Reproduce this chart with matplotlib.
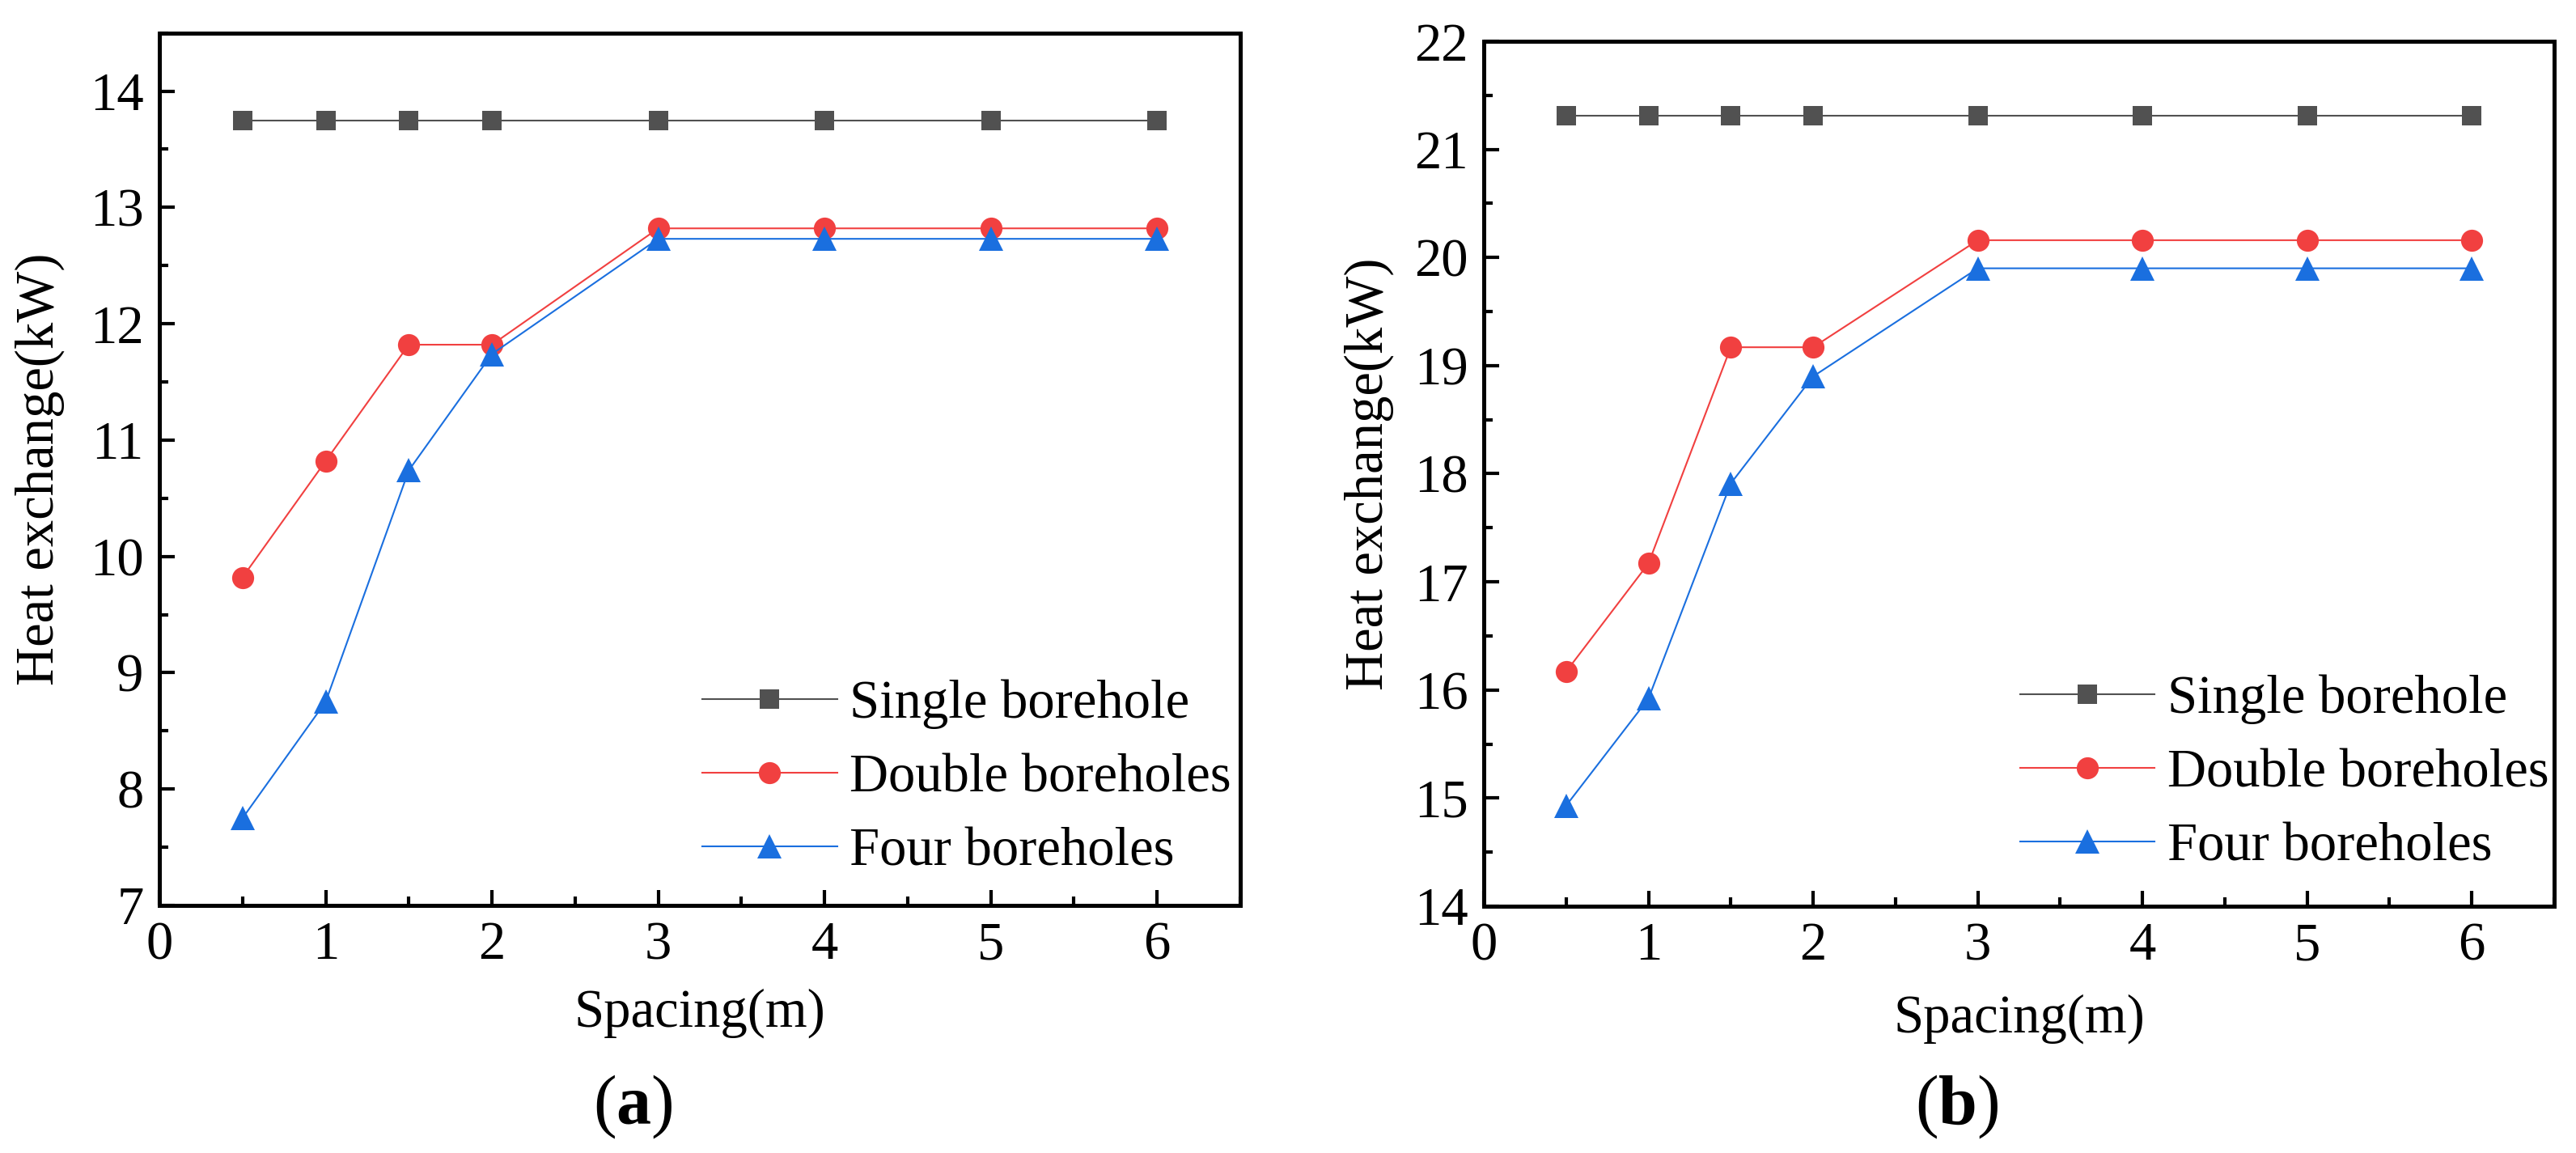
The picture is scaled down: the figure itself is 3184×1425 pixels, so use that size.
import matplotlib
matplotlib.use("Agg")
import matplotlib.pyplot as plt
from matplotlib.ticker import MultipleLocator

plt.rcParams['font.family'] = ['Liberation Serif', 'DejaVu Serif']
plt.rcParams['mathtext.fontset'] = 'custom'
plt.rcParams['mathtext.rm'] = 'Liberation Serif'
plt.rcParams['mathtext.bf'] = 'Liberation Serif:bold'

# ---- data ----
spacing = [0.5, 1, 1.5, 2, 3, 4, 5, 6]
series_names = ["Single borehole", "Double boreholes", "Four boreholes"]

a_single = [13.75, 13.75, 13.75, 13.75, 13.75, 13.75, 13.75, 13.75]
a_double = [9.82, 10.82, 11.82, 11.82, 12.82, 12.82, 12.82, 12.82]
a_four = [7.75, 8.75, 10.74, 11.74, 12.73, 12.73, 12.73, 12.73]

b_single = [21.31, 21.31, 21.31, 21.31, 21.31, 21.31, 21.31, 21.31]
b_double = [16.17, 17.17, 19.17, 19.17, 20.16, 20.16, 20.16, 20.16]
b_four = [14.93, 15.92, 17.91, 18.90, 19.90, 19.90, 19.90, 19.90]

x_label = "Spacing(m)"
y_label = "Heat exchange(kW)"
panel_labels = [r"($\mathbf{a}$)", r"($\mathbf{b}$)"]

colors = ["#515151", "#F14040", "#1A6FDF"]
markers = ["s", "o", "^"]
msizes = [8.8, 9.8, 10.5]

FS = 24
fig = plt.figure(figsize=(15.92, 7.125), dpi=200)

axA = fig.add_axes([0.06187, 0.21474, 0.41960, 0.75670])
axB = fig.add_axes([0.57600, 0.21404, 0.41552, 0.75017])

panels = [
    (axA, [a_single, a_double, a_four], (7, 14.5), -0.1108, -0.1234, (0.5022, 0.146)),
    (axB, [b_single, b_double, b_four], (14, 22), -0.1073, -0.130, (0.501, 0.154)),
]

for ax, data, ylim, ylx, xly, legpos in panels:
    for vals, name, c, m, ms in zip(data, series_names, colors, markers, msizes):
        ax.plot(spacing, vals, color=c, lw=0.75, marker=m, markersize=ms,
                markeredgewidth=0, label=name)
    ax.set_xlim(0, 6.5)
    ax.set_ylim(*ylim)
    ax.xaxis.set_major_locator(MultipleLocator(1))
    ax.xaxis.set_minor_locator(MultipleLocator(0.5))
    ax.yaxis.set_major_locator(MultipleLocator(1))
    ax.yaxis.set_minor_locator(MultipleLocator(0.5))
    ax.tick_params(which='both', direction='in', top=False, right=False,
                   labelsize=FS, width=1.5, pad=7)
    ax.tick_params(which='major', length=7)
    ax.tick_params(which='minor', length=4)
    for s in ax.spines.values():
        s.set_linewidth(1.8)
    ax.set_xlabel(x_label, fontsize=FS, va='center')
    ax.set_ylabel(y_label, fontsize=FS, va='center')
    ax.yaxis.set_label_coords(ylx, 0.5)
    ax.xaxis.set_label_coords(0.5, xly)
    ax.legend(loc='center left', bbox_to_anchor=legpos, frameon=False,
              fontsize=FS, handlelength=2.5, handletextpad=0.23,
              borderpad=0, borderaxespad=0, labelspacing=0.45)

fig.text(0.2456, 0.0400, panel_labels[0], fontsize=31, ha='center', va='center')
fig.text(0.7597, 0.0400, panel_labels[1], fontsize=31, ha='center', va='center')

fig.savefig("out.png", dpi=200)
